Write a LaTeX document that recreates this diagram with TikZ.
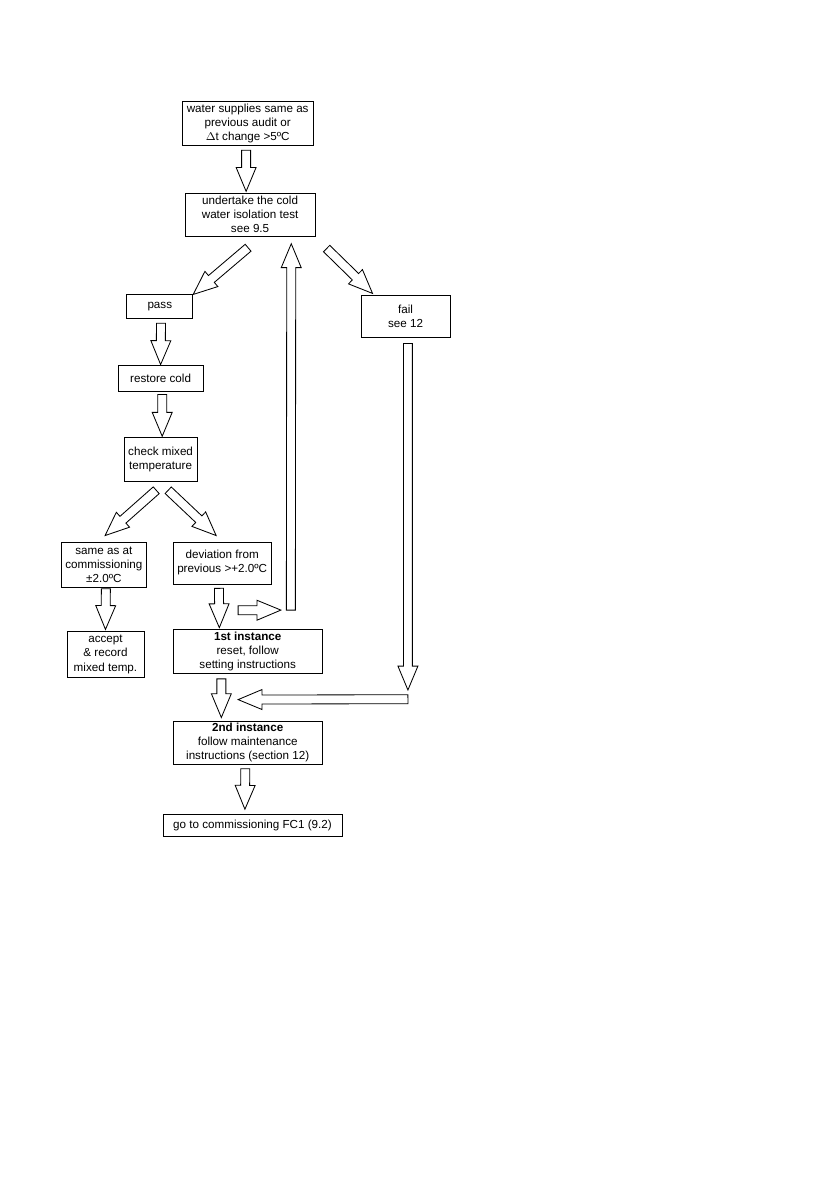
\documentclass[tikz,border=0pt]{standalone}
\usepackage{fontspec}
\setmainfont{Liberation Sans}
\usetikzlibrary{calc}

\tikzset{
  flowbox/.style={draw,line width=0.6pt,align=center,inner sep=0pt,font=\fontsize{8.3}{10}\selectfont},
  hollow/.style={draw,line width=0.6pt,line join=miter,fill=white}
}
\newcommand\blockarrow[2]{%
  \coordinate (ba-s) at #1;
  \coordinate (ba-e) at #2;
  \coordinate (ba-h) at ($(ba-e)!17pt!(ba-s)$);
  \draw[hollow] ($(ba-s)!3.2pt!90:(ba-e)$) -- ($(ba-h)!3.2pt!90:(ba-e)$)
    -- ($(ba-h)!7.1pt!90:(ba-e)$) -- (ba-e) -- ($(ba-h)!7.1pt!-90:(ba-e)$)
    -- ($(ba-h)!3.2pt!-90:(ba-e)$) -- ($(ba-s)!3.2pt!-90:(ba-e)$) -- cycle;}

\begin{document}
\begin{tikzpicture}
    \useasboundingbox (0,0) rectangle (21.0,-29.81);
    \node[flowbox,minimum width=3.28cm,minimum height=1.10cm] (top) at (6.20,-3.10) {water supplies same as\\previous audit or\\$\Delta$t change >5ºC};
    \node[flowbox,minimum width=3.25cm,minimum height=1.08cm] (test) at (6.26,-5.37) {undertake the cold\\water isolation test\\see 9.5};
    \node[flowbox,minimum width=1.65cm,minimum height=0.60cm] (pass) at (4.00,-7.68) {pass};
    \node[flowbox,minimum width=2.23cm,minimum height=1.05cm] (fail) at (10.15,-7.91) {fail\\see 12};
    \node[flowbox,minimum width=2.13cm,minimum height=0.65cm] (cold) at (4.02,-9.46) {restore cold};
    \node[flowbox,minimum width=1.83cm,minimum height=1.10cm] (check) at (4.02,-11.51) {check mixed\\temperature};
    \node[flowbox,minimum width=2.15cm,minimum height=1.13cm] (same) at (2.60,-14.13) {same as at\\commissioning\\±2.0ºC};
    \node[flowbox,minimum width=2.45cm,minimum height=1.05cm] (dev) at (5.56,-14.09) {deviation from\\previous >+2.0ºC};
    \node[flowbox,minimum width=1.93cm,minimum height=1.13cm] (accept) at (2.64,-16.38) {accept\\\& record\\mixed temp.};
    \node[flowbox,minimum width=3.73cm,minimum height=1.10cm] (first) at (6.20,-16.30) {\textbf{1st instance}\\reset, follow\\setting instructions};
    \node[flowbox,minimum width=3.73cm,minimum height=1.08cm] (second) at (6.20,-18.59) {\textbf{2nd instance}\\follow maintenance\\instructions (section 12)};
    \node[flowbox,minimum width=4.48cm,minimum height=0.53cm] (goto) at (6.32,-20.66) {go to commissioning FC1 (9.2)};
    \coordinate (back) at (7.28,-15.27);
    \coordinate (merge) at (10.21,-17.50);
    \blockarrow{($(top.south)+(-0.04,-0.1)$)}{($(test.north)+(-0.1,0.03)$)}
    \blockarrow{($(test.south)+(-0.05,-0.28)$)}{(pass.north east)}
    \blockarrow{($(test.south east)+(0.28,-0.3)$)}{($(fail.north west)+(0.3,0.03)$)}
    \blockarrow{($(pass.south)+(0.03,-0.1)$)}{(cold.north)}
    \blockarrow{($(cold.south)+(0.04,-0.08)$)}{($(check.north)+(0.04,0.03)$)}
    \blockarrow{($(check.south)+(-0.11,-0.2)$)}{($(same.north)+(0.03,0.15)$)}
    \blockarrow{($(check.south)+(0.19,-0.2)$)}{($(dev.north)+(-0.15,0.15)$)}
    \blockarrow{($(same.south)+(0.05,-0.03)$)}{($(accept.north)+(0,0.05)$)}
    \blockarrow{($(dev.south)+(-0.08,-0.1)$)}{($(first.north)+(-0.71,0.03)$)}
    \blockarrow{($(dev.south)+(0.4,-0.65)$)}{($(back)+(-0.25,0)$)}
    \blockarrow{(back)}{($(test.south)+(1.03,-0.18)$)}
    \blockarrow{($(fail.south)+(0.06,-0.15)$)}{($(merge)+(0,0.23)$)}
    \blockarrow{(merge)}{($(first.south)+(-0.24,-0.65)$)}
    \blockarrow{($(first.south)+(-0.66,-0.13)$)}{($(second.north)+(-0.66,0.08)$)}
    \blockarrow{($(second.south)+(-0.06,-0.1)$)}{($(goto.north)+(-0.19,0.13)$)}
  \end{tikzpicture}
\end{document}
